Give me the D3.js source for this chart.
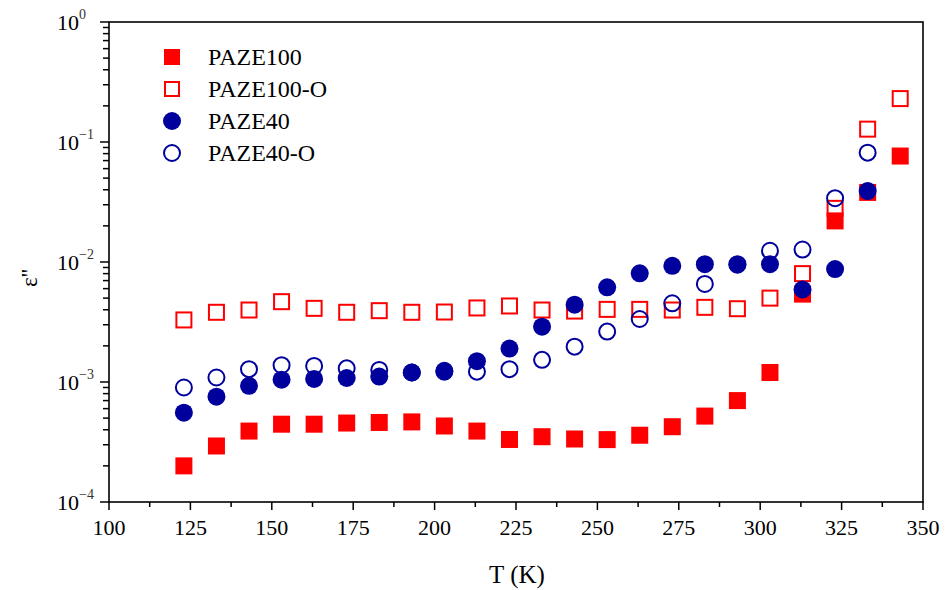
<!DOCTYPE html>
<html>
<head>
<meta charset="utf-8">
<script src="https://cdn.jsdelivr.net/npm/d3@7"></script>
<style>
  body { margin: 0; background: #fff; }
  text { font-family: "Liberation Serif", "Times New Roman", serif; fill: #000; }
</style>
</head>
<body>
<svg width="948" height="590"></svg>
<script>
var svg = d3.select("svg");

// temperatures (K)
var temps = [123, 133, 143, 153, 163, 173, 183, 193, 203, 213, 223, 233, 243, 253, 263, 273, 283, 293, 303, 313, 323, 333, 343];

var paze100   = [2.0e-4, 2.93e-4, 3.9e-4, 4.45e-4, 4.45e-4, 4.55e-4, 4.6e-4, 4.65e-4, 4.3e-4, 3.9e-4, 3.32e-4, 3.5e-4, 3.35e-4, 3.31e-4, 3.6e-4, 4.24e-4, 5.2e-4, 7.0e-4, 1.2e-3, 5.4e-3, 0.022, 0.038, 0.0764];
var paze100o  = [3.29e-3, 3.81e-3, 3.98e-3, 4.67e-3, 4.11e-3, 3.81e-3, 3.93e-3, 3.81e-3, 3.83e-3, 4.14e-3, 4.3e-3, 3.98e-3, 3.9e-3, 4.03e-3, 4.03e-3, 3.98e-3, 4.19e-3, 4.08e-3, 5.0e-3, 8.0e-3, 0.028, 0.128, 0.23];
var paze40    = [5.55e-4, 7.55e-4, 9.3e-4, 1.045e-3, 1.06e-3, 1.08e-3, 1.11e-3, 1.2e-3, 1.24e-3, 1.49e-3, 1.9e-3, 2.89e-3, 4.41e-3, 6.15e-3, 8.05e-3, 9.3e-3, 9.6e-3, 9.6e-3, 9.6e-3, 5.9e-3, 8.74e-3, 0.039];
var paze40o   = [9.0e-4, 1.09e-3, 1.28e-3, 1.38e-3, 1.36e-3, 1.3e-3, 1.26e-3, 1.2e-3, 1.22e-3, 1.22e-3, 1.28e-3, 1.53e-3, 1.97e-3, 2.63e-3, 3.35e-3, 4.53e-3, 6.56e-3, 9.5e-3, 0.0124, 0.0127, 0.034, 0.0815];

var xTicks = [100, 125, 150, 175, 200, 225, 250, 275, 300, 325, 350];
var yExps = [0, -1, -2, -3, -4];
var legendNames = ["PAZE100", "PAZE100-O", "PAZE40", "PAZE40-O"];

var pLeft = 109, pRight = 923, pTop = 22, pBottom = 502;
var red = "#ff0000", blue = "#00009c";

var x = d3.scaleLinear().domain([100, 350]).range([pLeft, pRight]);
var y = d3.scaleLog().domain([1e-4, 1]).range([pBottom, pTop]);

// frame
svg.append("rect").attr("x", pLeft).attr("y", pTop).attr("width", pRight - pLeft).attr("height", pBottom - pTop)
  .attr("fill", "none").attr("stroke", "#000").attr("stroke-width", 1.6);

// x axis ticks
var xMinor = d3.range(100, 350.1, 12.5);
svg.append("g").selectAll("line").data(xMinor).enter().append("line")
  .attr("x1", d => x(d)).attr("x2", d => x(d))
  .attr("y1", pBottom).attr("y2", d => pBottom + (d % 25 === 0 ? 8 : 5))
  .attr("stroke", "#000").attr("stroke-width", 1.5);
svg.append("g").selectAll("text").data(xTicks).enter().append("text")
  .attr("x", d => x(d)).attr("y", pBottom + 33)
  .attr("text-anchor", "middle").style("font-size", "22px")
  .text(d => d);

// y axis ticks
var yMinor = [];
for (var e = -4; e < 0; e++) for (var m = 2; m <= 9; m++) yMinor.push(m * Math.pow(10, e));
svg.append("g").selectAll("line").data(yMinor).enter().append("line")
  .attr("x1", pLeft - 6).attr("x2", pLeft)
  .attr("y1", d => y(d)).attr("y2", d => y(d))
  .attr("stroke", "#000").attr("stroke-width", 1.5);
svg.append("g").selectAll("line").data(yExps).enter().append("line")
  .attr("x1", pLeft - 9).attr("x2", pLeft)
  .attr("y1", d => y(Math.pow(10, d))).attr("y2", d => y(Math.pow(10, d)))
  .attr("stroke", "#000").attr("stroke-width", 1.5);
var yl = svg.append("g").selectAll("text").data(yExps).enter().append("text")
  .attr("x", 57).attr("y", d => y(Math.pow(10, d)) + 8)
  .style("font-size", "22px");
yl.append("tspan").text("10");
yl.append("tspan").attr("dy", -11).style("font-size", "14px").style("fill", "#333")
  .text(d => d === 0 ? "0" : "\u2212" + (-d));

// axis titles
svg.append("text").attr("x", (pLeft + pRight) / 2 + 1).attr("y", 583)
  .attr("text-anchor", "middle").style("font-size", "25px").text("T (K)");
svg.append("text").attr("transform", "translate(37,278) rotate(-90)")
  .attr("text-anchor", "middle").style("font-size", "23px").text("\u03b5''");

// series
var sq = 17, r = 9;
function pts(vals) { return vals.map((v, i) => ({t: temps[i], v: v})); }

svg.append("g").selectAll("rect").data(pts(paze100)).enter().append("rect")
  .attr("x", d => x(d.t) - sq / 2).attr("y", d => y(d.v) - sq / 2)
  .attr("width", sq).attr("height", sq).attr("fill", red);

svg.append("g").selectAll("rect").data(pts(paze100o)).enter().append("rect")
  .attr("x", d => x(d.t) - (sq - 2) / 2).attr("y", d => y(d.v) - (sq - 2) / 2)
  .attr("width", sq - 2).attr("height", sq - 2)
  .attr("fill", "none").attr("stroke", red).attr("stroke-width", 2);

svg.append("g").selectAll("circle").data(pts(paze40o)).enter().append("circle")
  .attr("cx", d => x(d.t)).attr("cy", d => y(d.v)).attr("r", r - 1)
  .attr("fill", "none").attr("stroke", blue).attr("stroke-width", 2);

svg.append("g").selectAll("circle").data(pts(paze40)).enter().append("circle")
  .attr("cx", d => x(d.t)).attr("cy", d => y(d.v)).attr("r", r)
  .attr("fill", blue);

// legend
var lg = svg.append("g").selectAll("g").data(legendNames).enter().append("g")
  .attr("transform", (d, i) => "translate(172," + (57 + i * 32) + ")");
lg.each(function(d, i) {
  var g = d3.select(this);
  if (i === 0) g.append("rect").attr("x", -8).attr("y", -8).attr("width", 16).attr("height", 16).attr("fill", red);
  if (i === 1) g.append("rect").attr("x", -7).attr("y", -7).attr("width", 14).attr("height", 14)
    .attr("fill", "none").attr("stroke", red).attr("stroke-width", 2);
  if (i === 2) g.append("circle").attr("r", 9).attr("fill", blue);
  if (i === 3) g.append("circle").attr("r", 8).attr("fill", "none").attr("stroke", blue).attr("stroke-width", 2);
  g.append("text").attr("x", 36).attr("y", 8).style("font-size", "24px").text(d);
});
</script>
</body>
</html>
